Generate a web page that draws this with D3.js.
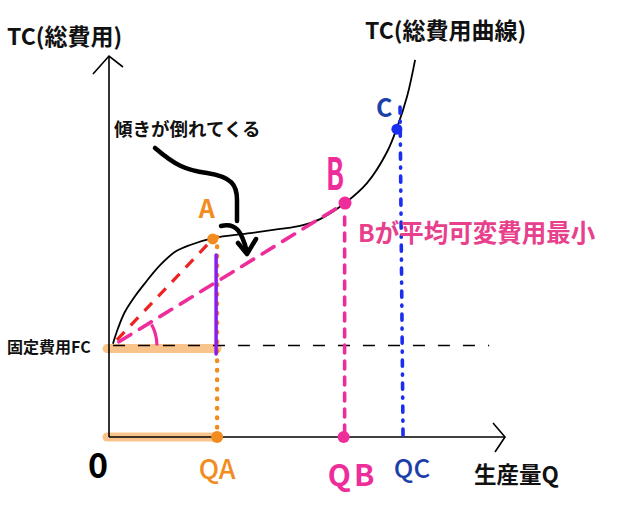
<!DOCTYPE html>
<html>
<head>
<meta charset="utf-8">
<script src="https://cdn.jsdelivr.net/npm/d3@7"></script>
<style>
  body { margin: 0; background: #fff; }
  text { font-family: "Noto Sans CJK JP", "Noto Sans", sans-serif; }
</style>
</head>
<body>
<div id="chart"></div>
<script>
// values (Q on x, cost on y, arbitrary units 0..10)
var tcQ = [0.1, 0.23, 0.4, 0.66, 0.91, 1.29, 1.67, 2.05, 2.63, 3.56, 4.32, 4.82, 5.33, 5.96, 6.52, 7.02, 7.27, 7.53, 7.73];
var tcC = [2.45, 2.86, 3.28, 3.7, 4.04, 4.51, 4.86, 5.04, 5.22, 5.35, 5.46, 5.54, 5.72, 6.14, 6.67, 7.48, 8.11, 8.95, 9.9];
var fixedCost = 2.4;
var pointNames = ["A", "B", "C"];
var pointQ = [2.62, 5.96, 7.27];
var pointC = [5.2, 6.14, 8.08];
var qLabels = ["QA", "QB", "QC"];
var qLineQ = [2.73, 5.95, 7.4];

var width = 620, height = 505;
var x = d3.scaleLinear().domain([0, 10]).range([109, 505]);
var y = d3.scaleLinear().domain([0, 10]).range([437, 56]);

var svg = d3.select("#chart").append("svg")
  .attr("width", width)
  .attr("height", height);

var orange = "#f28c1e", pink = "#ee2d9b", pinkText = "#e8408c",
    blue = "#1a2ef0", darkBlue = "#1d3fa8";

// light orange bands along FC and along Q axis up to QA
svg.append("line")
  .attr("x1", x(0) - 2).attr("x2", x(qLineQ[0]))
  .attr("y1", y(fixedCost) + 3).attr("y2", y(fixedCost) + 3)
  .attr("stroke", "#f9c48c").attr("stroke-width", 9).attr("stroke-linecap", "round");
svg.append("line")
  .attr("x1", x(0) - 2).attr("x2", x(qLineQ[0]))
  .attr("y1", y(0)).attr("y2", y(0))
  .attr("stroke", "#f9c48c").attr("stroke-width", 9).attr("stroke-linecap", "round");

// axes
svg.append("line")
  .attr("x1", x(0)).attr("x2", x(0)).attr("y1", y(0)).attr("y2", y(10))
  .attr("stroke", "#000").attr("stroke-width", 1.6);
svg.append("line")
  .attr("x1", x(0)).attr("x2", x(10)).attr("y1", y(0)).attr("y2", y(0))
  .attr("stroke", "#000").attr("stroke-width", 1.6);
// arrow heads (open chevrons)
svg.append("path")
  .attr("d", "M" + (x(0) - 16) + "," + (y(10) + 18) + " L" + x(0) + "," + y(10) + " L" + (x(0) + 14) + "," + (y(10) + 11))
  .attr("fill", "none").attr("stroke", "#000").attr("stroke-width", 1.6);
svg.append("path")
  .attr("d", "M" + (x(10) - 12) + "," + (y(0) - 14) + " L" + x(10) + "," + y(0) + " L" + (x(10) - 10) + "," + (y(0) + 15))
  .attr("fill", "none").attr("stroke", "#000").attr("stroke-width", 1.6);

// fixed cost dashed line
svg.append("line")
  .attr("x1", x(0.1)).attr("x2", x(9.6))
  .attr("y1", y(fixedCost)).attr("y2", y(fixedCost))
  .attr("stroke", "#000").attr("stroke-width", 1.6)
  .attr("stroke-dasharray", "12,13");

// TC curve
var tcData = tcQ.map(function (q, i) { return [q, tcC[i]]; });
svg.append("path")
  .datum(tcData)
  .attr("d", d3.line().x(function (d) { return x(d[0]); }).y(function (d) { return y(d[1]); }).curve(d3.curveCatmullRom))
  .attr("fill", "none").attr("stroke", "#000").attr("stroke-width", 1.8);

// red dashed ray to A
svg.append("line")
  .attr("x1", x(0.2)).attr("y1", y(2.55))
  .attr("x2", x(pointQ[0])).attr("y2", y(pointC[0]))
  .attr("stroke", "#ee2222").attr("stroke-width", 3.2)
  .attr("stroke-dasharray", "11,9");

// pink dashed ray to B
svg.append("line")
  .attr("x1", x(0.25)).attr("y1", y(2.5))
  .attr("x2", x(pointQ[1])).attr("y2", y(pointC[1]))
  .attr("stroke", pink).attr("stroke-width", 3.6)
  .attr("stroke-dasharray", "14,10").attr("stroke-linecap", "round");

// angle arc
var arc = d3.arc().innerRadius(44).outerRadius(44)
  .startAngle(Math.PI / 2 - 0.5).endAngle(Math.PI / 2);
svg.append("path")
  .attr("transform", "translate(" + x(0.1) + "," + y(fixedCost) + ")")
  .attr("d", arc())
  .attr("fill", "none").attr("stroke", pink).attr("stroke-width", 3.2)
  .attr("stroke-linecap", "round");

// orange dotted drop from A
svg.append("line")
  .attr("x1", x(qLineQ[0])).attr("x2", x(qLineQ[0]))
  .attr("y1", y(pointC[0]) - 2).attr("y2", y(0))
  .attr("stroke", orange).attr("stroke-width", 4.5)
  .attr("stroke-dasharray", "0.5,9").attr("stroke-linecap", "round");

// purple segment (variable cost at QA)
svg.append("line")
  .attr("x1", x(qLineQ[0]) - 1).attr("x2", x(qLineQ[0]) - 1)
  .attr("y1", y(4.78)).attr("y2", y(2.18))
  .attr("stroke", "#8a1cf0").attr("stroke-width", 3.5).attr("stroke-linecap", "round");

// pink dashed drop from B
svg.append("line")
  .attr("x1", x(qLineQ[1])).attr("x2", x(qLineQ[1]))
  .attr("y1", y(pointC[1]) + 14).attr("y2", y(0))
  .attr("stroke", pink).attr("stroke-width", 3.6)
  .attr("stroke-dasharray", "8,8").attr("stroke-linecap", "round");

// blue dash-dot drop from C
svg.append("line")
  .attr("x1", x(qLineQ[2]) - 2).attr("x2", x(qLineQ[2]) + 1)
  .attr("y1", y(pointC[2]) - 22).attr("y2", y(0))
  .attr("stroke", blue).attr("stroke-width", 3.6)
  .attr("stroke-dasharray", "6,8,1,8").attr("stroke-linecap", "round");

// points
svg.append("circle").attr("cx", x(pointQ[0])).attr("cy", y(pointC[0])).attr("r", 5.5).attr("fill", orange);
svg.append("circle").attr("cx", x(pointQ[1])).attr("cy", y(pointC[1])).attr("r", 6.5).attr("fill", pink);
svg.append("circle").attr("cx", x(pointQ[2])).attr("cy", y(pointC[2])).attr("r", 5.5).attr("fill", blue);
svg.append("circle").attr("cx", x(qLineQ[0])).attr("cy", y(0)).attr("r", 6).attr("fill", orange);
svg.append("circle").attr("cx", x(qLineQ[1]) - 1).attr("cy", y(0)).attr("r", 6).attr("fill", pink);

// black hand-drawn arrow
svg.append("path")
  .attr("d", "M155,148 C175,165 185,170 207,173 C232,177 237,185 237,200 L237,221")
  .attr("fill", "none").attr("stroke", "#000").attr("stroke-width", 4.5).attr("stroke-linecap", "round");
svg.append("path")
  .attr("d", "M221,226 C236,222 242,232 247,252")
  .attr("fill", "none").attr("stroke", "#000").attr("stroke-width", 4.5).attr("stroke-linecap", "round");
svg.append("path")
  .attr("d", "M238,243 L247,254 L256,239")
  .attr("fill", "none").attr("stroke", "#000").attr("stroke-width", 4.5)
  .attr("stroke-linecap", "round").attr("stroke-linejoin", "round");

// labels
function label(txt, lx, ly, size, color, weight) {
  return svg.append("text")
    .attr("x", lx).attr("y", ly)
    .attr("font-size", size)
    .attr("font-weight", weight || "bold")
    .attr("fill", color)
    .text(txt);
}
label("TC(総費用)", 7, 45, 23, "#111");
label("TC(総費用曲線)", 365, 39, 23, "#111");
label("傾きが倒れてくる", 114, 136, 18.5, "#111");
label("Bが平均可変費用最小", 358, 242, 24.5, pinkText);
label("固定費用FC", 7, 353, 16, "#111");
label("0", 88, 478, 34, "#000").attr("font-family", "Liberation Sans");
label("A", x(pointQ[0]) - 14, 218, 25, orange).attr("font-family", "Liberation Sans");
label("C", 376, 117, 25, darkBlue).attr("font-family", "Liberation Sans");
label("B", 326, 190, 44, pink)
  .attr("font-family", "DejaVu Sans Condensed")
  .attr("transform", "translate(326,190) scale(0.6,1) translate(-326,-190)");
label(qLabels[0], x(qLineQ[0]), 479, 27, orange, 500)
  .attr("text-anchor", "middle");
label(qLabels[1], x(qLineQ[1]) + 8, 486, 30, pink)
  .attr("text-anchor", "middle").attr("font-family", "DejaVu Sans")
  .attr("letter-spacing", 3);
label(qLabels[2], x(qLineQ[2]) + 10, 478, 26, darkBlue, 500)
  .attr("text-anchor", "middle");
label("生産量Q", 474, 483, 22.5, "#111");
</script>
</body>
</html>
